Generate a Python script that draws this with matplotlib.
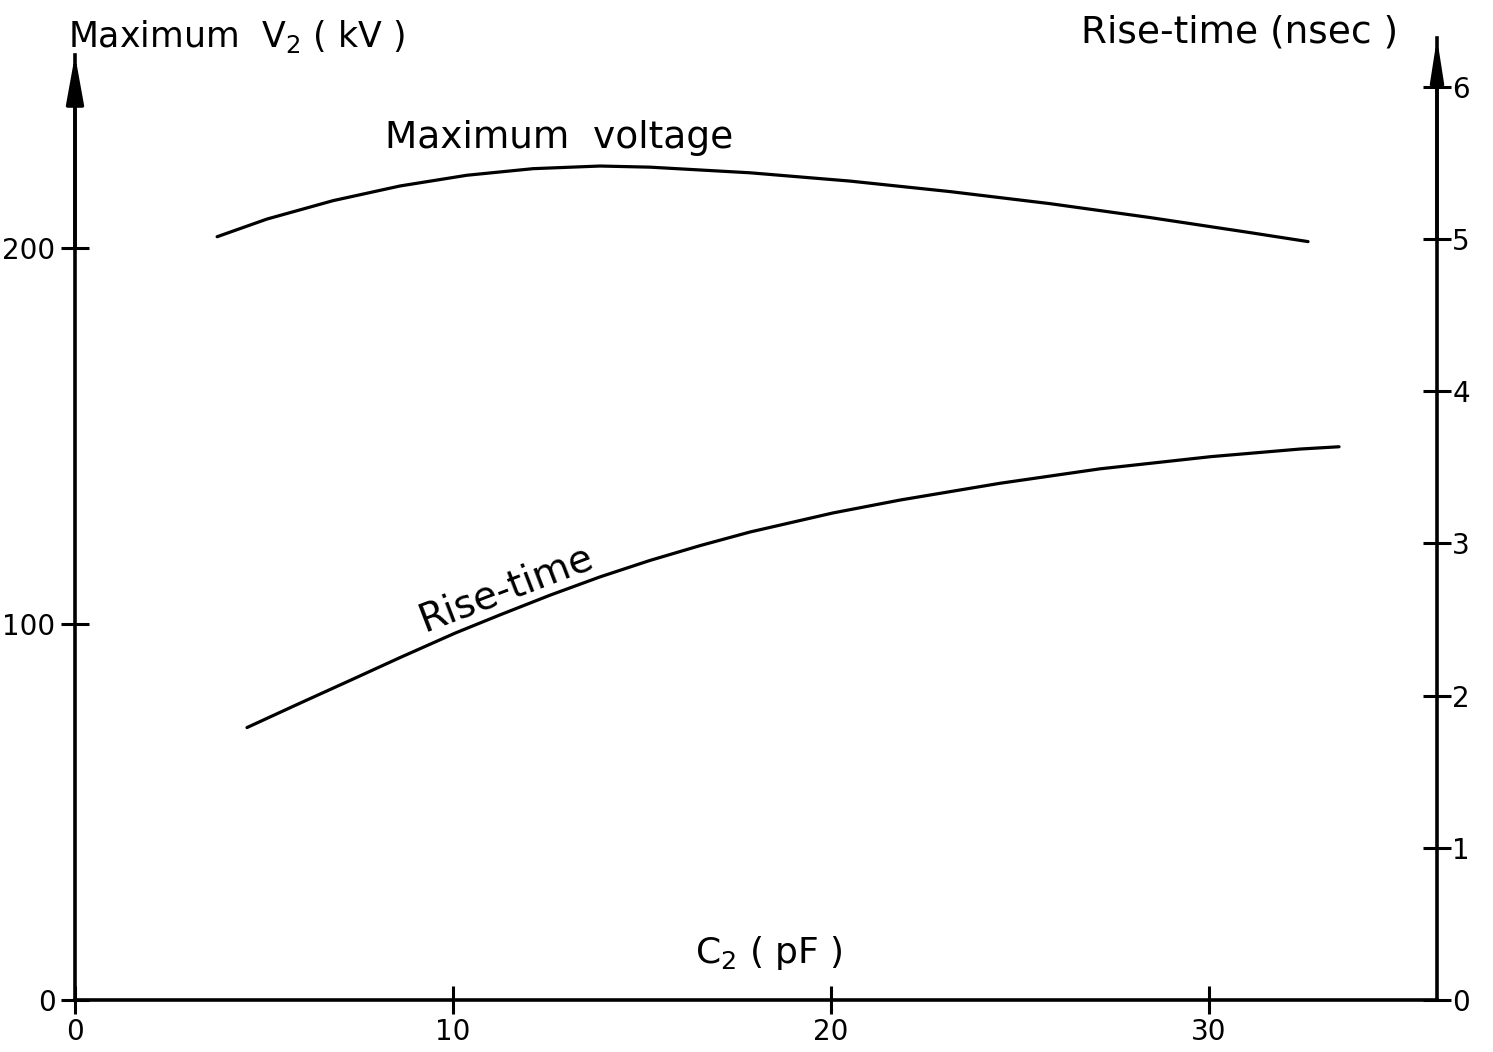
import numpy as np
import matplotlib.pyplot as plt

plt.rcParams['font.family'] = ['DejaVu Sans']
plt.rcParams['mathtext.fontset'] = 'dejavusans'

# Maximum voltage V2 (kV) against C2 (pF)
c2_volt = [3.76, 5.08, 6.83, 8.60, 10.37, 12.12, 13.89, 15.21, 17.86,
           20.50, 23.15, 25.79, 28.44, 31.08, 32.62]
v_max = [203.0, 207.7, 212.6, 216.5, 219.35, 221.1, 221.8, 221.5, 220.0,
         217.8, 215.0, 211.8, 208.1, 204.1, 201.7]

# Rise-time (nsec) against C2 (pF)
c2_rise = [4.55, 5.95, 7.28, 8.60, 10.05, 11.24, 12.57, 13.89, 15.21,
           16.53, 17.86, 20.05, 21.83, 24.47, 27.12, 30.05, 32.41, 33.44]
t_rise = [1.79, 1.95, 2.10, 2.25, 2.41, 2.53, 2.66, 2.78, 2.888,
          2.985, 3.075, 3.20, 3.285, 3.395, 3.49, 3.57, 3.62, 3.635]

x_ticks = [0, 10, 20, 30]
v_ticks = [0, 100, 200]
t_ticks = [0, 1, 2, 3, 4, 5, 6]

W, H = 1493, 1052
fig = plt.figure(figsize=(W / 100, H / 100), dpi=100)
fig.patch.set_facecolor('white')

# axes box in pixels: left 75, right 1437, bottom 1000, top 38
x0, x1, y0, y1 = 75, 1437, 1000, 38
ax = fig.add_axes([x0 / W, (H - y0) / H, (x1 - x0) / W, (y0 - y1) / H])
ax2 = ax.twinx()

ax.set_xlim(0, (x1 - x0) / 37.8)
ax.set_ylim(0, (y0 - y1) / 3.76)
ax2.set_ylim(0, (y0 - y1) / 152.2)

lw_axis = 2.6
for a in (ax, ax2):
    for s in a.spines.values():
        s.set_visible(False)
    a.patch.set_visible(False)

ax.spines['bottom'].set_visible(True)
ax.spines['bottom'].set_linewidth(lw_axis)
ax.spines['left'].set_visible(True)
ax.spines['left'].set_linewidth(lw_axis)
ax.spines['left'].set_bounds(0, (y0 - 55) / 3.76)
ax2.spines['right'].set_visible(True)
ax2.spines['right'].set_linewidth(lw_axis)

# arrow heads on the vertical axes
ax.annotate('', xy=(0, (y0 - 55) / 3.76), xytext=(0, 200),
            arrowprops=dict(arrowstyle='-|>,head_length=1.05,head_width=0.19',
                            color='black', lw=lw_axis, shrinkA=0, shrinkB=0,
                            mutation_scale=28), annotation_clip=False)
ax2.annotate('', xy=(ax.get_xlim()[1], (y0 - 38) / 152.2),
             xytext=(ax.get_xlim()[1], 5),
             arrowprops=dict(arrowstyle='-|>,head_length=0.9,head_width=0.14',
                             color='black', lw=lw_axis, shrinkA=0, shrinkB=0,
                             mutation_scale=28), annotation_clip=False)

ax.set_xticks(x_ticks)
ax.set_yticks(v_ticks)
ax2.set_yticks(t_ticks)
ax.tick_params(axis='both', direction='inout', length=20, width=2.2,
               labelsize=20, colors='black', pad=4)
ax.tick_params(axis='x', pad=3)
ax2.tick_params(axis='y', direction='inout', length=20, width=2.2,
                labelsize=20, colors='black', pad=1)

# curves
ax.plot(c2_volt, v_max, color='black', lw=2.3, solid_joinstyle='round',
        solid_capstyle='round')
ax2.plot(c2_rise, t_rise, color='black', lw=2.3, solid_joinstyle='round',
         solid_capstyle='round')

# labels on the plot
ax.text(12.8, 226.6, 'Maximum  voltage', fontsize=27, ha='center', va='baseline')
ax.text(11.4, 109.5, 'Rise-time', fontsize=28, ha='center', va='center',
        rotation=21, rotation_mode='anchor')
ax.text(18.36, 9.8, 'C$_2$ ( pF )', fontsize=26, ha='center', va='baseline')

fig.text(68 / W, 1 - 47 / H, 'Maximum  V$_2$ ( kV )', fontsize=25,
         ha='left', va='baseline')
fig.text(1398 / W, 1 - 42 / H, 'Rise-time (nsec )', fontsize=27,
         ha='right', va='baseline')

fig.savefig('out.png', dpi=100, facecolor='white')
